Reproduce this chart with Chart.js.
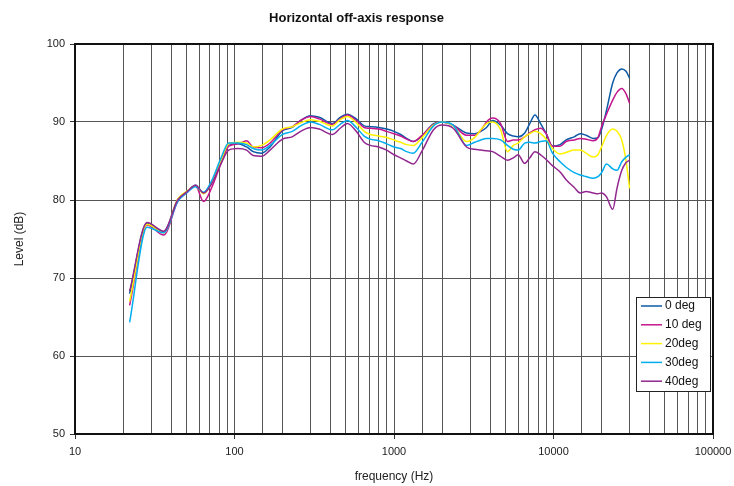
<!DOCTYPE html>
<html>
<head>
<meta charset="utf-8">
<script src="https://cdn.jsdelivr.net/npm/chart.js@4.4.0/dist/chart.umd.min.js"></script>
<style>
  html, body { margin: 0; padding: 0; background: #fff; }
  #wrap { width: 734px; height: 486px; }
</style>
</head>
<body>
<div id="wrap"><canvas id="chart" width="734" height="486"></canvas></div>
<script>
// frequency points (Hz) shared by all curves
const freqs = [22, 28.3, 36, 44, 50, 57, 64, 72, 82, 92, 105, 119, 131, 148, 167, 200, 230, 260, 300, 340,
  410, 460, 510, 580, 650, 710, 800, 900, 1000, 1100, 1200, 1320, 1500, 1770, 2000, 2350, 2850, 3200, 3500, 3800,
  4150, 4660, 5150, 5600, 6000, 6600, 7100, 7650, 8300, 9000, 9850, 11000, 12000, 13500, 14700, 16000, 17700, 19000,
  20000, 21500, 23500, 25000, 26800, 28500, 30000];

// levels in dB
const deg0 = [68.0, 77.0, 75.9, 80.0, 81.0, 81.9, 80.9, 82.3, 85.0, 87.0, 87.2, 86.8, 86.2, 86.0, 86.8, 88.9, 89.3, 90.2, 90.8, 90.6,
  89.8, 90.6, 91.0, 90.4, 89.5, 89.4, 89.3, 89.1, 88.8, 88.4, 87.9, 87.5, 88.2, 89.8, 90.0, 89.6, 88.6, 88.5, 88.8, 89.3,
  90.2, 89.6, 88.5, 88.2, 88.1, 88.6, 89.8, 90.9, 89.8, 88.5, 86.9, 87.1, 87.7, 88.1, 88.5, 88.3, 87.9, 88.0,
  89.0, 91.5, 95.0, 96.3, 96.8, 96.5, 95.6];
const deg10 = [66.5, 76.8, 75.5, 79.8, 80.9, 81.8, 79.8, 81.6, 84.6, 86.9, 87.2, 87.6, 86.8, 86.7, 87.3, 89.0, 89.4, 90.2, 90.7, 90.4,
  89.7, 90.4, 90.9, 90.2, 89.3, 89.2, 89.1, 88.8, 88.5, 88.2, 87.8, 87.5, 88.3, 89.7, 90.0, 89.6, 88.3, 88.3, 88.9, 90.0,
  90.5, 89.8, 87.5, 87.7, 87.7, 88.1, 88.6, 89.0, 89.2, 88.5, 86.9, 86.9, 87.5, 87.7, 87.9, 87.8, 87.6, 88.0,
  89.4, 91.0, 92.8, 93.8, 94.3, 93.6, 92.4];
const deg20 = [67.0, 76.9, 75.8, 80.1, 81.1, 81.8, 80.8, 82.2, 85.0, 87.2, 87.4, 87.3, 86.8, 87.0, 87.7, 89.1, 89.4, 89.9, 90.3, 90.1,
  89.5, 90.3, 90.7, 89.9, 88.8, 88.4, 88.2, 88.0, 87.7, 87.4, 87.1, 87.0, 88.0, 89.6, 90.0, 89.5, 87.5, 88.0, 89.0, 89.8,
  90.0, 89.0, 86.2, 87.0, 87.3, 88.1, 88.5, 88.8, 88.5, 87.8, 86.6, 85.9, 86.1, 86.4, 86.4, 86.0, 85.5, 85.8,
  86.8, 88.3, 89.1, 88.8, 87.7, 85.0, 81.5];
const deg30 = [64.3, 76.5, 75.8, 79.8, 80.9, 81.7, 81.0, 82.5, 85.3, 87.3, 87.3, 87.1, 86.6, 86.4, 87.0, 88.4, 88.8, 89.5, 90.0, 89.7,
  89.0, 89.7, 90.2, 89.3, 88.2, 87.8, 87.6, 87.2, 86.8, 86.6, 86.2, 86.0, 87.4, 89.5, 90.0, 89.6, 87.0, 87.4, 87.7, 87.9,
  87.9, 87.7, 87.0, 86.5, 86.4, 87.3, 87.4, 87.3, 87.5, 87.6, 86.0, 84.9, 84.2, 83.5, 83.2, 83.0, 82.8, 83.0,
  83.5, 84.6, 84.0, 83.8, 84.9, 85.5, 85.8];
const deg40 = [68.3, 77.1, 76.0, 80.0, 81.0, 81.9, 80.9, 82.1, 84.6, 86.4, 86.6, 86.4, 85.7, 85.6, 86.4, 87.8, 88.1, 88.8, 89.3, 89.1,
  88.4, 89.2, 89.8, 88.8, 87.4, 87.0, 86.8, 86.4, 85.8, 85.4, 85.0, 84.6, 86.3, 89.0, 89.6, 89.2, 86.8, 86.5, 86.4, 86.3,
  86.2, 85.6, 85.1, 85.4, 85.8, 84.7, 85.4, 86.2, 85.8, 85.2, 84.4, 83.6, 82.6, 81.6, 80.9, 81.1, 80.9, 80.8,
  80.9, 80.4, 78.8, 81.5, 83.8, 84.8, 85.1];

const seriesNames = ["0 deg", "10 deg", "20deg", "30deg", "40deg"];
const seriesColors = ["#0d5aa7", "#c4168f", "#fff200", "#00aeef", "#92278f"];
const xTickLabels = [10, 100, 1000, 10000, 100000];
const yTicks = [50, 60, 70, 80, 90, 100];

const font = "'Liberation Sans', Arial, sans-serif";

// black frame round the plot area
const frame = {
    id: "frame",
    afterDatasetsDraw(chart) {
        const a = chart.chartArea;
        const ctx = chart.ctx;
        ctx.save();
        ctx.strokeStyle = "#111";
        ctx.lineWidth = 2;
        ctx.strokeRect(a.left, a.top, a.right - a.left, a.bottom - a.top);
        ctx.restore();
    }
};

// boxed legend inside the plot, lower right
const boxLegend = {
    id: "boxLegend",
    afterDraw(chart) {
        const a = chart.chartArea;
        const ctx = chart.ctx;
        const w = 74, rowH = 18.8, h = 94;
        const x0 = a.right - 3 - w;
        const y0 = a.bottom - 43 - h;
        ctx.save();
        ctx.fillStyle = "#fff";
        ctx.fillRect(x0, y0, w, h);
        ctx.strokeStyle = "#222";
        ctx.lineWidth = 1;
        ctx.strokeRect(x0 + 0.5, y0 + 0.5, w, h);
        ctx.font = "12px " + font;
        ctx.textBaseline = "middle";
        chart.data.datasets.forEach((ds, i) => {
            const y = y0 + 9 + i * rowH;
            ctx.strokeStyle = ds.borderColor;
            ctx.lineWidth = 1.5;
            ctx.beginPath();
            ctx.moveTo(x0 + 5, y);
            ctx.lineTo(x0 + 26, y);
            ctx.stroke();
            ctx.fillStyle = "#111";
            ctx.fillText(ds.label, x0 + 29, y);
        });
        ctx.restore();
    }
};

const datasets = [deg0, deg10, deg20, deg30, deg40].map((vals, i) => ({
    label: seriesNames[i],
    data: freqs.map((f, j) => ({ x: f, y: vals[j] })),
    borderColor: seriesColors[i],
    borderWidth: 1.5,
    pointRadius: 0,
    fill: false,
    cubicInterpolationMode: "monotone",
    order: 5 - i
}));

new Chart(document.getElementById("chart").getContext("2d"), {
    type: "line",
    data: { datasets: datasets },
    options: {
        responsive: false,
        animation: false,
        layout: { padding: { left: 0, right: 21, top: 0, bottom: 0 } },
        scales: {
            x: {
                type: "logarithmic",
                min: 10,
                max: 100000,
                afterFit: s => { s.height = 52; s.paddingLeft = 0; s.paddingRight = 0; },
                grid: {
                    color: "#555",
                    lineWidth: 1,
                    tickLength: 5,
                    tickColor: ctx => (ctx.tick && xTickLabels.includes(ctx.tick.value)) ? "#333" : "rgba(0,0,0,0)"
                },
                border: { color: "#111", width: 2 },
                ticks: {
                    autoSkip: false,
                    maxRotation: 0,
                    padding: 6,
                    color: "#222",
                    font: { family: font, size: 11 },
                    callback: v => xTickLabels.includes(v) ? String(v) : ""
                },
                title: {
                    display: true,
                    text: "frequency (Hz)",
                    color: "#222",
                    font: { family: font, size: 12 },
                    padding: { top: 4, bottom: 2 }
                }
            },
            y: {
                min: 50,
                max: 100,
                afterFit: s => { s.width = 75; },
                afterBuildTicks: s => { s.ticks = yTicks.map(v => ({ value: v })); },
                grid: { color: "#555", lineWidth: 1, tickLength: 5, tickColor: "#333" },
                border: { color: "#111", width: 2 },
                ticks: {
                    padding: 5,
                    color: "#222",
                    font: { family: font, size: 11 }
                },
                title: {
                    display: true,
                    text: "Level (dB)",
                    color: "#222",
                    font: { family: font, size: 12 },
                    padding: { top: 12, bottom: 0 }
                }
            }
        },
        plugins: {
            legend: { display: false },
            tooltip: { enabled: false },
            title: {
                display: true,
                text: "Horizontal off-axis response",
                color: "#111",
                font: { family: font, size: 13, weight: "bold" },
                padding: { top: 11, bottom: 17.4 }
            }
        }
    },
    plugins: [frame, boxLegend]
});
</script>
</body>
</html>
